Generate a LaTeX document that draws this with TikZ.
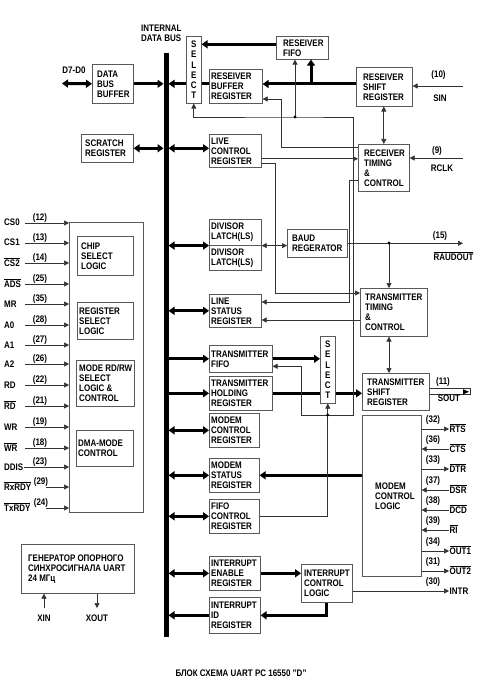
\documentclass[tikz,border=0pt]{standalone}
\usepackage{fontspec}
\setmainfont[FakeStretch=0.84]{Liberation Sans}
\usetikzlibrary{arrows.meta}
\newcommand\lbl{\bfseries\fontsize{9.5}{10}\selectfont}
\newcommand\ovl[1]{$\overline{\hbox{#1}}$}
\newcommand\ubox[7][0]{%
 \node[bx, minimum width=#5pt, minimum height=#6pt] (#2) at (#3,#4) {};
 \node[tx, xshift=#1pt] (#2-t) at (#2.west) {#7};}
\tikzset{
 bx/.style={draw=black!65, line width=0.6pt, anchor=north west, inner sep=0pt},
 tx/.style={anchor=west, inner xsep=2pt, inner ysep=0pt, align=left, font=\lbl},
 lb/.style={inner sep=0pt, font=\lbl},
 tk/.style={line width=3pt, draw=black},
 tkr/.style={tk, -{Triangle[length=6pt,width=8pt]}},
 tkb/.style={tk, {Triangle[length=6pt,width=8pt]}-{Triangle[length=6pt,width=8pt]}},
 tn/.style={line width=0.7pt, draw=black!80},
 tnr/.style={tn, -{Triangle[length=5pt,width=5pt]}},
 tnb/.style={tn, {Triangle[length=5pt,width=5pt]}-{Triangle[length=5pt,width=5pt]}},
 seltxt/.style={inner sep=0pt, align=center, font=\bfseries\fontsize{9.5}{10.2}\selectfont}
}
\begin{document}
\begin{tikzpicture}[x=1pt,y=-1pt]
\useasboundingbox (0,0) rectangle (494,700);
\fill[white] (0,0) rectangle (494,700);

% boxes
\ubox[3]{dbb}{92}{64}{41}{39}{DATA\\BUS\\BUFFER}
\ubox[2]{scr}{81}{134}{52}{28}{SCRATCH\\REGISTER}
\ubox{rbr}{209}{69}{53}{34}{RESEIVER\\BUFFER\\REGISTER}
\ubox[5]{fifor}{276}{36}{52}{23}{RESEIVER\\FIFO}
\ubox[5]{rsr}{356}{67}{56}{39}{RESEIVER\\SHIFT\\REGISTER}
\ubox{lcr}{209}{134}{52}{33}{LIVE\\CONTROL\\REGISTER}
\ubox[4]{rtc}{358}{144}{51}{47}{RECEIVER\\TIMING\\\&\\CONTROL}
\ubox{dl1}{209}{219}{52}{26}{DIVISOR\\LATCH(LS)}
\ubox{dl2}{209}{245}{52}{25}{DIVISOR\\LATCH(LS)}
\ubox[3]{baud}{287}{229}{60}{28}{BAUD\\REGERATOR}
\ubox{lsr}{209}{294}{52}{33}{LINE\\STATUS\\REGISTER}
\ubox[3]{ttc}{360}{288}{67}{48}{TRANSMITTER\\TIMING\\\&\\CONTROL}
\ubox{txf}{209}{345}{63}{27}{TRANSMITTER\\FIFO}
\ubox{thr}{209}{376}{63}{34}{TRANSMITTER\\HOLDING\\REGISTER}
\ubox[3]{tsr}{362}{373}{67}{37}{TRANSMITTER\\SHIFT\\REGISTER}
\ubox{mcr}{209}{413}{50}{34}{MODEM\\CONTROL\\REGISTER}
\ubox{msr}{209}{458}{50}{34}{MODEM\\STATUS\\REGISTER}
\ubox{fcr}{209}{499}{50}{34}{FIFO\\CONTROL\\REGISTER}
\ubox[11]{mcl}{362}{415}{59}{161}{MODEM\\CONTROL\\LOGIC}
\ubox{ier}{209}{556}{51}{34}{INTERRUPT\\ENABLE\\REGISTER}
\ubox{iir}{209}{597}{51}{36}{INTERRUPT\\ID\\REGISTER}
\ubox[1]{icl}{301}{564}{51}{38}{INTERRUPT\\CONTROL\\LOGIC}
\node[bx, minimum width=74pt, minimum height=290pt] (ctl) at (69,222) {};
\ubox[2]{csl}{77}{236}{56}{39}{CHIP\\SELECT\\LOGIC}
\ubox{rsl}{77}{302}{56}{37}{REGISTER\\SELECT\\LOGIC}
\ubox[1]{mode}{76}{360}{58}{46}{MODE RD/RW\\SELECT\\LOGIC \&\\CONTROL}
\ubox{dma}{76}{430}{57}{36}{DMA-MODE\\CONTROL}
\ubox[5]{gen}{21}{544}{113}{49}{ГЕНЕРАТОР ОПОРНОГО\\СИНХРОСИГНАЛА UART\\24 МГц}

\node[bx, minimum width=15pt, minimum height=67pt] (sel1) at (186,36) {};
\node[seltxt] (sel1-t) at (sel1.center) {S\\E\\L\\E\\C\\T};
\node[bx, minimum width=15pt, minimum height=67pt] (sel2) at (320,336) {};
\node[seltxt] (sel2-t) at (sel2.center) {S\\E\\L\\E\\C\\T};

% internal bus
\coordinate (bustop) at (166,53);
\coordinate (busbot) at (166,637);
\coordinate (busl) at (163.5,0);
\coordinate (busr) at (168.5,0);
\draw[line width=5pt] (bustop) -- (busbot);
\node[lb, anchor=north west, align=left] (t-bus) at (141,25) {INTERNAL\\DATA BUS};

% thick connectors
\coordinate (d70) at (62,83.5);
\draw[tkb] (d70) -- (dbb.west);
\node[lb] (t-d7) at (74,70) {D7-D0};
\draw[tkr] (dbb.east) -- (dbb.east -| busl);
\draw[tkr] (sel1.west |- dbb.east) -- (dbb.east -| busr);
\coordinate (rxl) at (311,84);
\draw[tkr] (rxl -| rsr.west) -- (rxl -| rbr.east);
\draw[tk] (rxl -| sel1.east) -- (rxl -| rbr.west);
\draw[tkr] (rxl) -- (rxl |- fifor.south);
\draw[tkr] ([yshift=3.5pt]fifor.west) -- ([yshift=3.5pt]fifor.west -| sel1.east);
\draw[tkb] (scr.east) -- (scr.east -| busl);
\draw[tkb] (scr.east -| busr) -- (scr.east -| lcr.west);
\draw[tkb] (dl1.south west -| busr) -- (dl1.south west);
\draw[tkb] (lsr.west -| busr) -- (lsr.west);
\draw[tkr] (txf.west -| busr) -- (txf.west);
\draw[tkr] (thr.west -| busr) -- (thr.west);
\draw[tkb] (mcr.west -| busr) -- (mcr.west);
\draw[tkb] (msr.west -| busr) -- (msr.west);
\draw[tkb] (fcr.west -| busr) -- (fcr.west);
\draw[tkb] (ier.west -| busr) -- (ier.west);
\draw[tkr] (iir.west) -- (iir.west -| busr);
\draw[tkr] (txf.east) -- (txf.east -| sel2.west);
\draw[tk] (thr.east) -- (thr.east -| sel2.west);
\draw[tkr] (thr.east -| sel2.east) -- (thr.east -| tsr.west);
\draw[tkr] (msr.east -| mcl.west) -- (msr.east);
\draw[tkr] (ier.east) -- (ier.east -| icl.west);
\draw[tkr] (icl.south) |- (iir.east);

% thin connectors
\coordinate (ja) at (295,117);
\coordinate (jb) at (353,117);
\coordinate (jc) at (353,415);
\coordinate (je) at (301,415);
\coordinate (jd) at (sel2.south |- jc);
\draw[tnr] (jb) -- (ja) -| (sel1.south);
\draw[tnr] (ja) -- (ja |- fifor.south);
\draw[tnr] (jb) -- (jc) -- (je) |- ([yshift=-7.5pt]txf.east);
\draw[tnr] (fcr.east) -| (sel2.south);
\fill (ja) circle (1.6pt);
\fill (jd) circle (1.6pt);

\coordinate (k2) at (281,99);
\draw[tnr] ([yshift=-3pt]rtc.north west) -| (k2) -- (k2 -| rbr.east);
\draw[tnr] ([yshift=-8pt]lcr.east) -- ([yshift=-8pt]lcr.east -| rtc.west);
\coordinate (k4) at (275,293);
\draw[tnr] ([yshift=-12.5pt]lcr.east) -| (k4) -- (k4 -| ttc.west);
\coordinate (k5) at (349,302);
\draw[tnr] ([yshift=-36pt]rtc.north west) -| (k5) -- (k5 -| lsr.east);
\draw[tnr] ([yshift=-32pt]ttc.north west) -- ([yshift=-32pt]ttc.north west -| lsr.east);
\draw[tnb] (dl1.south east) -- (dl1.south east -| baud.west);

\coordinate (rout) at (463,243);
\coordinate (k6) at (389,243);
\draw[tnr] (baud.east) -- (baud.east -| rout);
\draw[tnr] (k6) -- (k6 |- ttc.north);
\fill (k6) circle (1.6pt);
\draw[tnb] (k6 |- ttc.south) -- (k6 |- tsr.north);
\draw[tnb] (rtc.north |- rsr.south) -- (rtc.north);
\node[lb] (p15) at (440,236) {(15)};
\node[lb, anchor=base] (t-raud) at (453.5,260) {\ovl{RAUDOUT}};

\coordinate (sin) at (463,86);
\draw[tnr] (sin) -- (sin -| rsr.east);
\node[lb] (p10) at (438.5,75) {(10)};
\node[lb] (t-sin) at (440,98) {SIN};
\coordinate (rclk) at (463,158);
\draw[tnr] (rclk) -- (rclk -| rtc.east);
\node[lb] (p9) at (437,151) {(9)};
\node[lb] (t-rclk) at (442,168) {RCLK};

% SOUT
\coordinate (sout) at (470,391);
\draw[tn] ([yshift=3pt]tsr.east) -- ([yshift=3pt]tsr.east -| sout) -- ([yshift=-3pt]tsr.east -| sout) -- ([yshift=-3pt]tsr.east);
\fill ([xshift=-1pt]tsr.east -| sout) -- ++(-6,-2.6) -- ++(0,5.2) -- cycle;
\node[lb] (p11) at (443,382) {(11)};
\node[lb] (t-sout) at (449,398) {SOUT};

% modem signals
\foreach \lab/\y/\pin/\dir in {RTS/429/32/o, CTS/449/36/i, DTR/469/33/o, DSR/490/37/i, DCD/510/38/i, RI/530/39/i, OUT1/551/34/o, OUT2/571/31/o}{
  \coordinate (sg\pin) at (449,\y);
  \if o\dir
    \draw[tnr] (sg\pin -| mcl.east) -- (sg\pin);
  \else
    \draw[tnr] (sg\pin) -- (sg\pin -| mcl.east);
  \fi
  \node[lb] (pn\pin) at (433,\y-8.5) {(\pin)};
  \node[lb, anchor=base west] (sl\pin) at (449.5,\y+3) {\ovl{\lab}};
}
\coordinate (intr) at (449,591);
\draw[tnr] (intr -| icl.east) -- (intr);
\node[lb] (p30) at (433,582.5) {(30)};
\node[lb, anchor=base west] (t-intr) at (449.5,594) {INTR};

% left inputs
\foreach \lab/\y/\pin/\xs/\px in {CS0/223/12/25/40, CS1/243/13/25/40, {\ovl{CS2}}/263/14/25/40, {\ovl{ADS}}/284/25/25/40, MR/304/35/25/40, A0/325/28/25/40, A1/345/27/25/40, A2/364/26/25/40, RD/385/22/25/40, {\ovl{RD}}/406/21/25/40, WR/427/19/25/40, {\ovl{WR}}/448/18/25/40, DDIS/467/23/24/40, {\ovl{RxRDY}}/487/29/46/41, {\ovl{TxRDY}}/508/24/46/41}{
  \coordinate (in\pin) at (\xs,\y);
  \draw[tnr] (in\pin) -- (in\pin -| ctl.west);
  \node[lb] (ip\pin) at (\px,\y-5) {(\pin)};
  \node[lb, anchor=base west] (il\pin) at (4,\y+3) {\lab};
}

% generator pins
\coordinate (xin) at (44,608);
\coordinate (xout) at (97,608);
\draw[tnr] (xin) -- (xin |- gen.south);
\draw[tnr] (xout |- gen.south) -- (xout);
\node[lb] (t-xin) at (44,618) {XIN};
\node[lb] (t-xout) at (97,618) {XOUT};

% caption
\node[lb] (cap) at (241,673) {БЛОК СХЕМА UART PC 16550 "D"};
\end{tikzpicture}
\end{document}
